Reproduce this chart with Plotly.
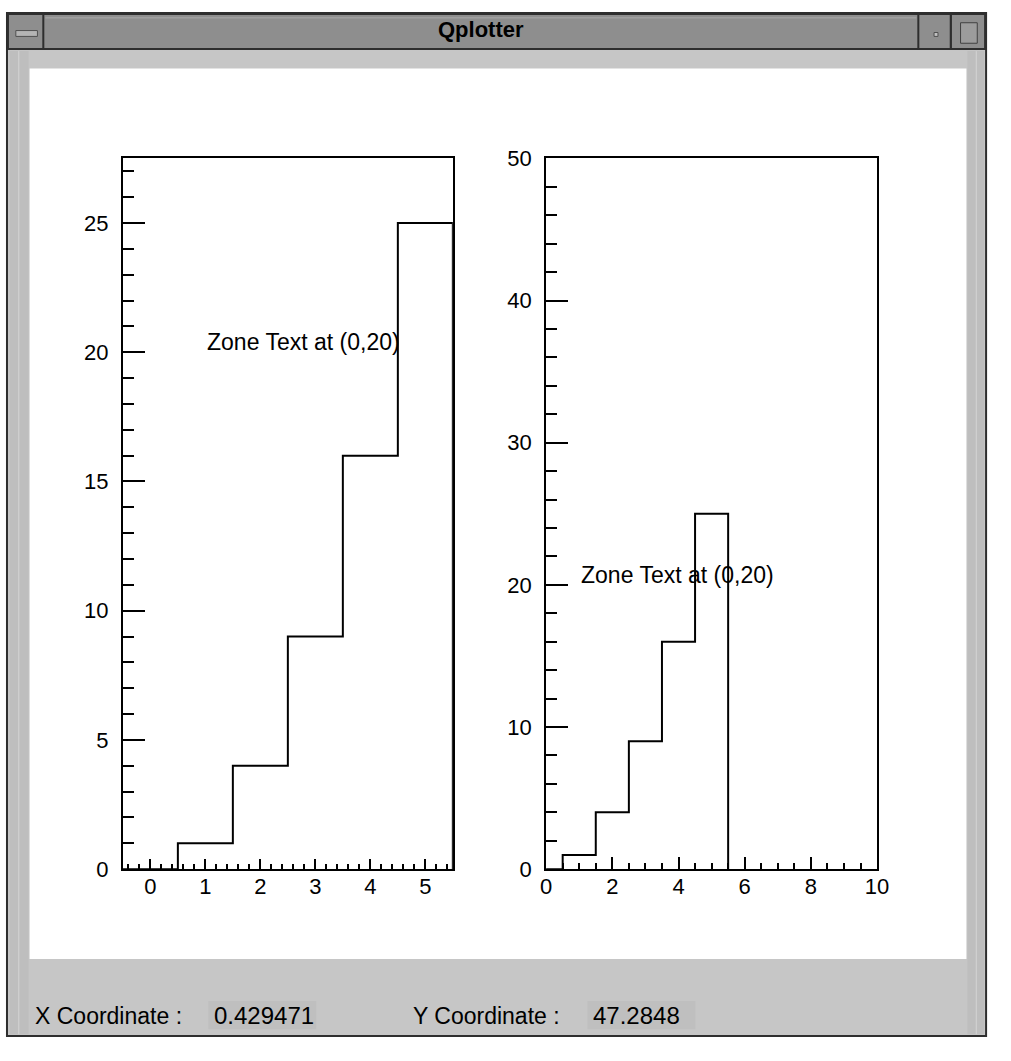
import numpy as np
import plotly.graph_objects as go

# ---------------- data ----------------
bin_centers = [0, 1, 2, 3, 4, 5]
bin_values = [0, 1, 4, 9, 16, 25]
bin_width = 1.0
zone_text = "Zone Text at (0,20)"
zone_pos = (1, 20)
window_title = "Qplotter"
status_labels = ["X Coordinate :", "Y Coordinate :"]
status_values = ["0.429471", "47.2848"]

W, H = 1011, 1061          # reference picture size
OFF = 8                    # page body margin
FW, FH = W - OFF, H - OFF


def step_xy(centers, values, width):
    c = np.asarray(centers, float)
    v = np.asarray(values, float)
    lo = c - width / 2
    hi = c + width / 2
    xs = [lo[0]]
    ys = [0.0]
    for a, b, val in zip(lo, hi, v):
        xs += [a, b]
        ys += [val, val]
    xs.append(hi[-1])
    ys.append(0.0)
    return xs, ys


def px(x, y):
    return (x - OFF) / FW, 1 - (y - OFF) / FH


def rect(x0, y0, x1, y1, fill, line=None, lw=0):
    a, b = px(x0, y0)
    c, d = px(x1, y1)
    return dict(type="rect", xref="paper", yref="paper", x0=a, y0=d, x1=c, y1=b,
                fillcolor=fill, line=dict(color=line or fill, width=lw), layer="below")


def vline(x, y0, y1, color, lw=1):
    a, b = px(x, y0)
    _, d = px(x, y1)
    return dict(type="line", xref="paper", yref="paper", x0=a, y0=b, x1=a, y1=d,
                line=dict(color=color, width=lw), layer="below")


def hline(x0, x1, y, color, lw=1):
    a, b = px(x0, y)
    c, _ = px(x1, y)
    return dict(type="line", xref="paper", yref="paper", x0=a, y0=b, x1=c, y1=b,
                line=dict(color=color, width=lw), layer="below")


fig = go.Figure()
xs, ys = step_xy(bin_centers, bin_values, bin_width)
fig.add_trace(go.Scatter(x=xs, y=ys, mode="lines", line=dict(color="black", width=2),
                         xaxis="x", yaxis="y", showlegend=False, hoverinfo="skip"))
fig.add_trace(go.Scatter(x=xs, y=ys, mode="lines", line=dict(color="black", width=2),
                         xaxis="x2", yaxis="y2", showlegend=False, hoverinfo="skip"))

FONT = "Liberation Sans"
tickfont = dict(family=FONT, size=22, color="black")

axis_common = dict(showline=True, linecolor="black", linewidth=2, mirror=True,
                   ticks="inside", tickcolor="black", tickwidth=1.5,
                   showgrid=False, zeroline=False, tickfont=tickfont, fixedrange=True)


def minor(dt, ln):
    return dict(dtick=dt, tick0=0, ticklen=ln, ticks="inside", tickcolor="black", tickwidth=1.5)


def xdom(x0, x1):
    return [(x0 - OFF) / FW, (x1 - OFF) / FW]


plot_top, plot_bot = 158, 886
ydom = [1 - (plot_bot - OFF) / FH, 1 - (plot_top - OFF) / FH]

fig.update_layout(
    width=FW, height=FH, margin=dict(l=0, r=0, t=0, b=0),
    paper_bgcolor="white", plot_bgcolor="white", showlegend=False,
    xaxis=dict(domain=xdom(127, 463), range=[-0.5, 5.5], dtick=1, tick0=0, ticklen=10,
               minor=minor(0.2, 5), anchor="y", ticklabelstandoff=-4, **axis_common),
    yaxis=dict(domain=ydom, range=[0, 27.5], dtick=5, tick0=0, ticklen=22,
               minor=minor(1, 11), anchor="x", ticklabelstandoff=8, **axis_common),
    xaxis2=dict(domain=xdom(558, 895), range=[0, 10], dtick=2, tick0=0, ticklen=12,
                minor=minor(0.5, 6), anchor="y2", ticklabelstandoff=-4, **axis_common),
    yaxis2=dict(domain=ydom, range=[0, 50], dtick=10, tick0=0, ticklen=22,
                minor=minor(2, 11), anchor="x2", ticklabelstandoff=8, **axis_common),
)

shapes = []
# window body
shapes.append(rect(9, 9, 1006, 1057, "#c6c6c6", "#2e2e2e", 2))
# title bar
shapes.append(rect(10, 10, 1005, 46, "#8e8e8e", "#2e2e2e", 2))
shapes.append(hline(48, 935, 14, "#a8a8a8", 1))
# title bar buttons
shapes.append(rect(10, 10, 46, 46, "#8e8e8e", "#2e2e2e", 2))
shapes.append(rect(18, 27, 40, 33, "#b4b4b4", "#505050", 1))
shapes.append(rect(970, 10, 1005, 46, "#8e8e8e", "#2e2e2e", 2))
shapes.append(rect(937, 10, 970, 46, "#8e8e8e", "#2e2e2e", 2))
shapes.append(rect(953, 29, 957, 33, "#c0c0c0", "#505050", 1))
shapes.append(rect(980, 19, 997, 40, "#9c9c9c", "#404040", 1))
# inner lighter border strips
shapes.append(rect(12, 48, 31, 1055, "#bebebe"))
shapes.append(rect(987, 48, 1004, 1055, "#bebebe"))
shapes.append(vline(21, 48, 1055, "#d4d4d4", 1))
shapes.append(vline(996, 48, 1055, "#d4d4d4", 1))
# white canvas
shapes.append(rect(32, 66, 986, 978, "white"))
# status value boxes
shapes.append(rect(214, 1021, 324, 1050, "#bfbfbf"))
shapes.append(rect(600, 1021, 710, 1050, "#bfbfbf"))
fig.update_layout(shapes=shapes)

ann = []
tx, ty = px(492, 26)
ann.append(dict(text="<b>" + window_title + "</b>", x=tx, y=ty, xref="paper", yref="paper",
                xanchor="center", yanchor="middle",
                showarrow=False, font=dict(family=FONT, size=22, color="black")))
for i, (lab, val) in enumerate(zip(status_labels, status_values)):
    lx = [35, 420][i]
    vx = [218, 604][i]
    a, b = px(lx, 1036)
    ann.append(dict(text=lab, x=a, y=b, xref="paper", yref="paper", xanchor="left", yanchor="middle",
                    showarrow=False, font=dict(family=FONT, size=23, color="black")))
    a, b = px(vx, 1036)
    ann.append(dict(text=val, x=a, y=b, xref="paper", yref="paper", xanchor="left", yanchor="middle",
                    showarrow=False, font=dict(family=FONT, size=24, color="black")))
for xr, yr in [("x", "y"), ("x2", "y2")]:
    ann.append(dict(text=zone_text, x=zone_pos[0], y=zone_pos[1], xref=xr, yref=yr,
                    xanchor="left", yanchor="bottom", yshift=-5, showarrow=False,
                    font=dict(family=FONT, size=23, color="black")))
fig.update_layout(annotations=ann)

fig.write_html("out.html")
